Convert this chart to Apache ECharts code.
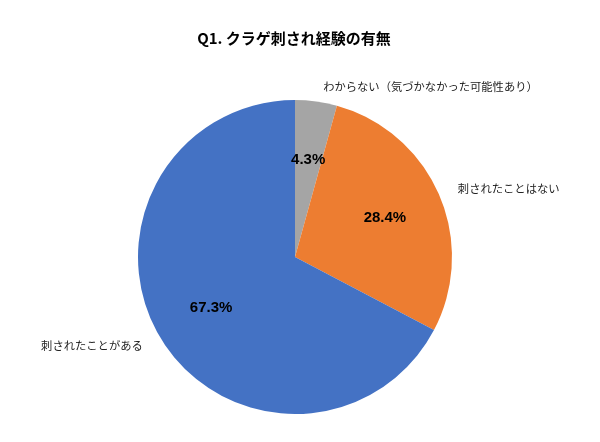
<!doctype html>
<html>
<head>
    <meta charset="utf-8">
    <title>Q1. クラゲ刺され経験の有無</title>
    <script src="https://cdn.jsdelivr.net/npm/echarts@6/dist/echarts.min.js"></script>
    <style>
        html, body { margin: 0; padding: 0; background: #fff; }
    </style>
</head>
<body>
    <div id="container" style="width:600px;height:442px;"></div>
    <script type="text/javascript">
        // 回答カテゴリ（上から時計回り）
        var categories = ['わからない（気づかなかった可能性あり）', '刺されたことはない', '刺されたことがある'];
        // 割合（%）
        var values = [4.3, 28.4, 67.3];
        var colors = ['#a5a5a5', '#ed7d31', '#4472c4'];

        var pieData = categories.map(function(name, i) {
            return { name: name, value: values[i], itemStyle: { color: colors[i] } };
        });

        var option = {
            backgroundColor: '#fff',
            animation: false,
            title: {
                text: 'Q1. クラゲ刺され経験の有無',
                left: 289,
                top: 26,
                textAlign: 'center',
                textStyle: {
                    fontFamily: "'Noto Sans CJK JP'",
                    fontSize: 15,
                    fontWeight: 'bold',
                    color: '#000'
                }
            },
            series: [{
                // 本体（外側にカテゴリ名）
                type: 'pie',
                center: [295, 257],
                radius: [0, 157],
                startAngle: 90,
                clockwise: true,
                data: pieData,
                label: {
                    show: true,
                    position: 'outside',
                    formatter: '{b}',
                    fontFamily: "'Noto Sans CJK JP'",
                    fontSize: 11.3,
                    color: '#222'
                },
                labelLine: { show: false, length: 15, length2: 0 },
                emphasis: { disabled: true }
            }, {
                // 透明な重ね円で数値ラベルを半径の約6割の位置に置く
                type: 'pie',
                center: [295, 257],
                radius: [0, 190],
                startAngle: 90,
                clockwise: true,
                silent: true,
                data: pieData.map(function(d) {
                    return { name: d.name, value: d.value, itemStyle: { color: 'rgba(0,0,0,0)' } };
                }),
                label: {
                    show: true,
                    position: 'inside',
                    formatter: '{c}%',
                    fontFamily: "'Liberation Sans', Arial, sans-serif",
                    fontSize: 15,
                    fontWeight: 'bold',
                    color: '#000'
                },
                labelLine: { show: false },
                emphasis: { disabled: true }
            }]
        };

        var myChart = echarts.init(document.getElementById('container'));
        myChart.setOption(option);
    </script>
</body>
</html>
